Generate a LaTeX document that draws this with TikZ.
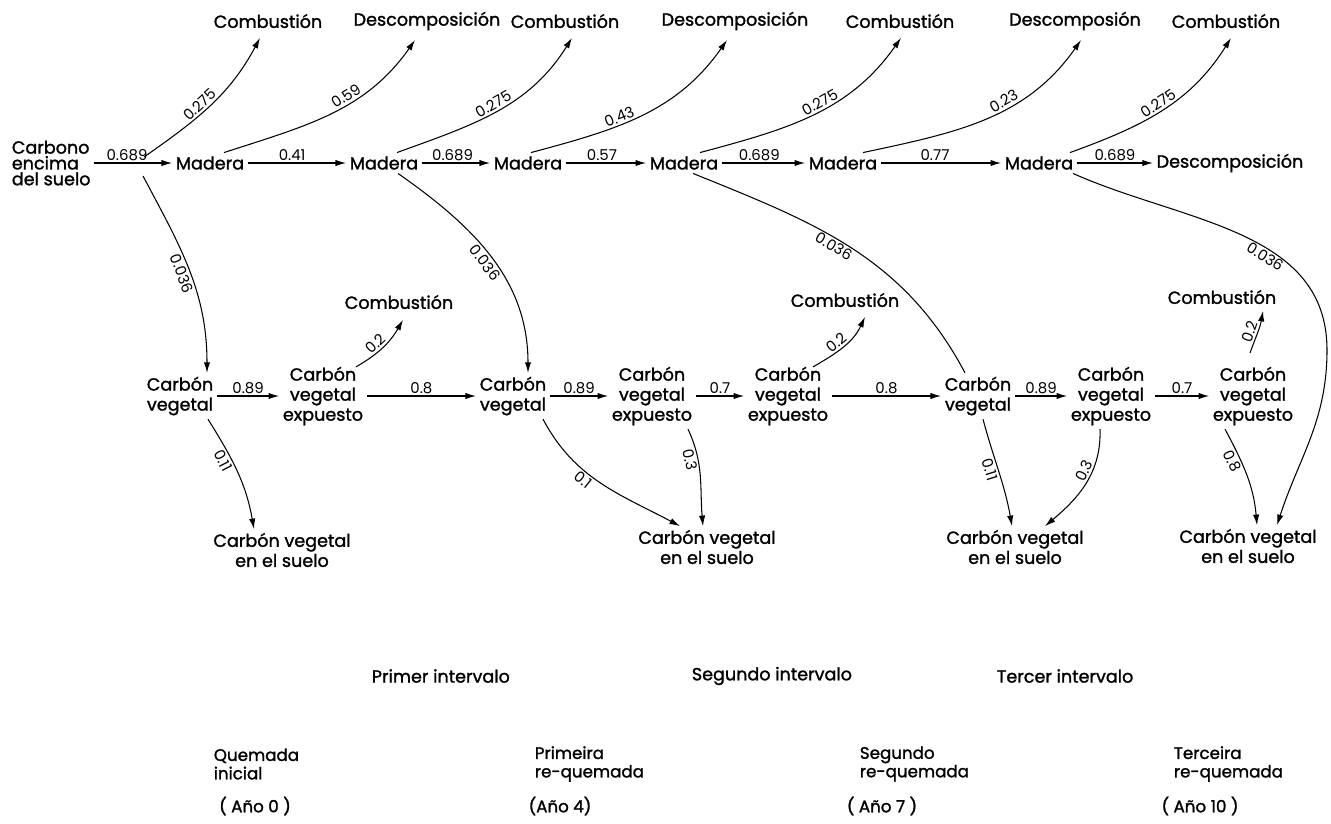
\documentclass[tikz,border=0pt]{standalone}
\usepackage{fontspec}
\setmainfont{Poppins}[UprightFeatures={FakeBold=1.4}]
\newfontfamily\labfont{Poppins}
\usetikzlibrary{arrows.meta,calc}
\begin{document}
\begin{tikzpicture}[x=0.02cm,y=0.02cm,
  txt/.style={font=\fontsize{10}{11.4}\selectfont, align=center, inner sep=2pt},
  small/.style={font=\fontsize{9.5}{10.5}\selectfont, align=left, inner sep=2pt},
  lab/.style={font=\labfont\fontsize{8.5}{9}\selectfont, inner sep=1pt},
  arr/.style={line width=0.6pt, -{Latex[length=6pt,width=3.6pt]}},
  plain/.style={line width=0.6pt},
]
\fill[white] (0,0) rectangle (1331,-823);
\useasboundingbox (0,0) rectangle (1331,-823);

% ---------- top destination labels ----------
\node[txt] (c1) at (268,-21) {Combustión};
\node[txt] (d1) at (427,-21) {Descomposición};
\node[txt] (c2) at (565,-21) {Combustión};
\node[txt] (d2) at (735,-21) {Descomposición};
\node[txt] (c3) at (900,-21) {Combustión};
\node[txt] (d3) at (1075,-21) {Descomposión};
\node[txt] (c4) at (1226,-21) {Combustión};

% ---------- wood row ----------
\node[txt, anchor=west, align=left, font=\fontsize{10}{9}\selectfont] (cs) at (8,-163) {Carbono\\encima\\del suelo};
\node[txt] (m1) at (210,-163) {Madera};
\node[txt] (m2) at (384,-163) {Madera};
\node[txt] (m3) at (528,-163) {Madera};
\node[txt] (m4) at (684,-163) {Madera};
\node[txt] (m5) at (843,-163) {Madera};
\node[txt] (m6) at (1039,-163) {Madera};
\node[txt] (dz) at (1230,-163) {Descomposición};

\coordinate (br1) at (144,-157);
\coordinate (br2) at (143,-176);

\draw[arr] (cs) -- node[lab,above,pos=0.42]{0.689} (m1);
\draw[arr] (m1) -- node[lab,above,pos=0.45]{0.41} (m2);
\draw[arr] (m2) -- node[lab,above,pos=0.45]{0.689} (m3);
\draw[arr] (m3) -- node[lab,above,pos=0.45]{0.57} (m4);
\draw[arr] (m4) -- node[lab,above,pos=0.45]{0.689} (m5);
\draw[arr] (m5) -- node[lab,above,pos=0.45]{0.77} (m6);
\draw[arr] (m6) -- node[lab,above,pos=0.5]{0.689} (dz);

% ---------- upward curves ----------
\draw[arr] (br1) to[out=35,in=-118] node[lab,sloped,above,pos=0.45]{0.275} ($(c1.south)+(-8,-6)$);
\draw[arr] ($(m1.north)+(14,0)$) to[out=18,in=-125] node[lab,sloped,above,pos=0.6]{0.59} ($(d1.south)+(-12,-6)$);
\draw[arr] ($(m2.north)+(13,0)$) to[out=20,in=-122] node[lab,sloped,above,pos=0.5]{0.275} ($(c2.south)+(7,-6)$);
\draw[arr] ($(m3.north)+(3,0)$) to[out=15,in=-125] node[lab,sloped,above,pos=0.4]{0.43} ($(d2.south)+(-8,-6)$);
\draw[arr] ($(m4.north)+(16,0)$) to[out=15,in=-125] node[lab,sloped,above,pos=0.55]{0.275} ($(c3.south)+(1,-6)$);
\draw[arr] ($(m5.north)+(20,0)$) to[out=12,in=-125] node[lab,sloped,above,pos=0.6]{0.23} ($(d3.south)+(6,-6)$);
\draw[arr] ($(m6.north)+(31,0)$) to[out=20,in=-122] node[lab,sloped,above,pos=0.5]{0.275} ($(c4.south)+(5,-6)$);

% ---------- charcoal row ----------
\node[txt] (cv1) at (180,-396) {Carbón\\vegetal};
\node[txt] (ex1) at (323,-396) {Carbón\\vegetal\\expuesto};
\node[txt] (mc1) at (399,-302) {Combustión};
\node[txt] (cv2) at (513,-396) {Carbón\\vegetal};
\node[txt] (ex2) at (652,-396) {Carbón\\vegetal\\expuesto};
\node[txt] (ex3) at (788,-396) {Carbón\\vegetal\\expuesto};
\node[txt] (mc2) at (845,-300) {Combustión};
\node[txt] (cv3) at (978,-396) {Carbón\\vegetal};
\node[txt] (ex4) at (1111,-396) {Carbón\\vegetal\\expuesto};
\node[txt] (ex5) at (1253,-396) {Carbón\\vegetal\\expuesto};
\node[txt] (mc3) at (1222,-297) {Combustión};

\draw[arr] (cv1) -- node[lab,above]{0.89} (ex1);
\draw[arr] (ex1) -- node[lab,above]{0.8} (cv2);
\draw[arr] (cv2) -- node[lab,above]{0.89} (ex2);
\draw[arr] (ex2) -- node[lab,above]{0.7} (ex3);
\draw[arr] (ex3) -- node[lab,above]{0.8} (cv3);
\draw[arr] (cv3) -- node[lab,above]{0.89} (ex4);
\draw[arr] (ex4) -- node[lab,above]{0.7} (ex5);

\draw[arr] ($(ex1.north)+(33,-4)$) to[out=30,in=-120] node[lab,sloped,above,pos=0.45]{0.2} ($(mc1.south)+(4,-7)$);
\draw[arr] ($(ex3.north)+(25,-4)$) to[out=30,in=-115] node[lab,sloped,above,pos=0.45]{0.2} ($(mc2.south)+(20,-6)$);
\draw[arr] ($(ex5.north)+(-3,10)$) to[out=70,in=-100] node[lab,sloped,above,pos=0.45]{0.2} ($(mc3.south)+(41,-3)$);

% ---------- soil charcoal ----------
\node[txt] (s1) at (282,-550) {Carbón vegetal\\en el suelo};
\node[txt] (s2) at (707,-547) {Carbón vegetal\\en el suelo};
\node[txt] (s3) at (1015,-547) {Carbón vegetal\\en el suelo};
\node[txt] (s4) at (1248,-546) {Carbón vegetal\\en el suelo};

% ---------- downward flows ----------
\draw[arr] (br2) to[out=-62,in=90] node[lab,sloped,below,pos=0.5]{0.036} ($(cv1.north)+(27,0)$);
\draw[arr] ($(m2.south)+(14,0)$) to[out=-35,in=90] node[lab,sloped,below,pos=0.5]{0.036} ($(cv2.north)+(15,0)$);
\draw[plain] ($(m4.south)+(9,0)$) to[out=-22,in=118] node[lab,sloped,below,pos=0.45]{0.036} ($(cv3.north)+(-13,0)$);
\draw[arr] ($(m6.south)+(34,0)$) to[out=-24,in=90] node[lab,sloped,below,pos=0.6]{0.036} (1327,-350) to[out=-90,in=72] ($(s4.north)+(29,0)$);

\draw[arr] ($(cv1.south)+(28,0)$) to[out=-58,in=100] node[lab,sloped,below,pos=0.35]{0.11} ($(s1.north)+(-28,0)$);
\draw[arr] ($(cv2.south)+(30,0)$) to[out=-62,in=152] node[lab,sloped,below,pos=0.4]{0.1} ($(s2.north)+(-27,0)$);
\draw[arr] ($(ex2.south)+(36,0)$) to[out=-65,in=95] node[lab,sloped,below,pos=0.3]{0.3} ($(s2.north)+(-4,0)$);
\draw[arr] ($(cv3.south)+(5,0)$) to[out=-75,in=100] node[lab,sloped,below,pos=0.45]{0.11} ($(s3.north)+(-3,0)$);
\draw[arr] ($(ex4.south)+(-11,0)$) to[out=-88,in=40] node[lab,sloped,above,pos=0.4]{0.3} ($(s3.north)+(30,0)$);
\draw[arr] ($(ex5.south)+(-28,0)$) to[out=-62,in=95] node[lab,sloped,below,pos=0.3]{0.8} ($(s4.north)+(9,0)$);

% ---------- bottom captions ----------
\node[txt, anchor=west] (iv1) at (368,-676) {Primer intervalo};
\node[txt, anchor=west] (iv2) at (688,-676) {Segundo intervalo};
\node[txt, anchor=west] (iv3) at (993,-676) {Tercer intervalo};

\node[small, anchor=west] (q0) at (210,-764) {Quemada\\inicial};
\node[small] (a0) at (255,-806) {( Año 0 )};
\node[small, anchor=west] (q1) at (531,-764) {Primeira\\re-quemada};
\node[small] (a1) at (560,-806) {(Año 4)};
\node[small, anchor=west] (q2) at (856,-764) {Segundo\\re-quemada};
\node[small] (a2) at (882,-806) {( Año 7 )};
\node[small, anchor=west] (q3) at (1170,-764) {Terceira\\re-quemada};
\node[small] (a3) at (1200,-806) {( Año 10 )};
\end{tikzpicture}
\end{document}
